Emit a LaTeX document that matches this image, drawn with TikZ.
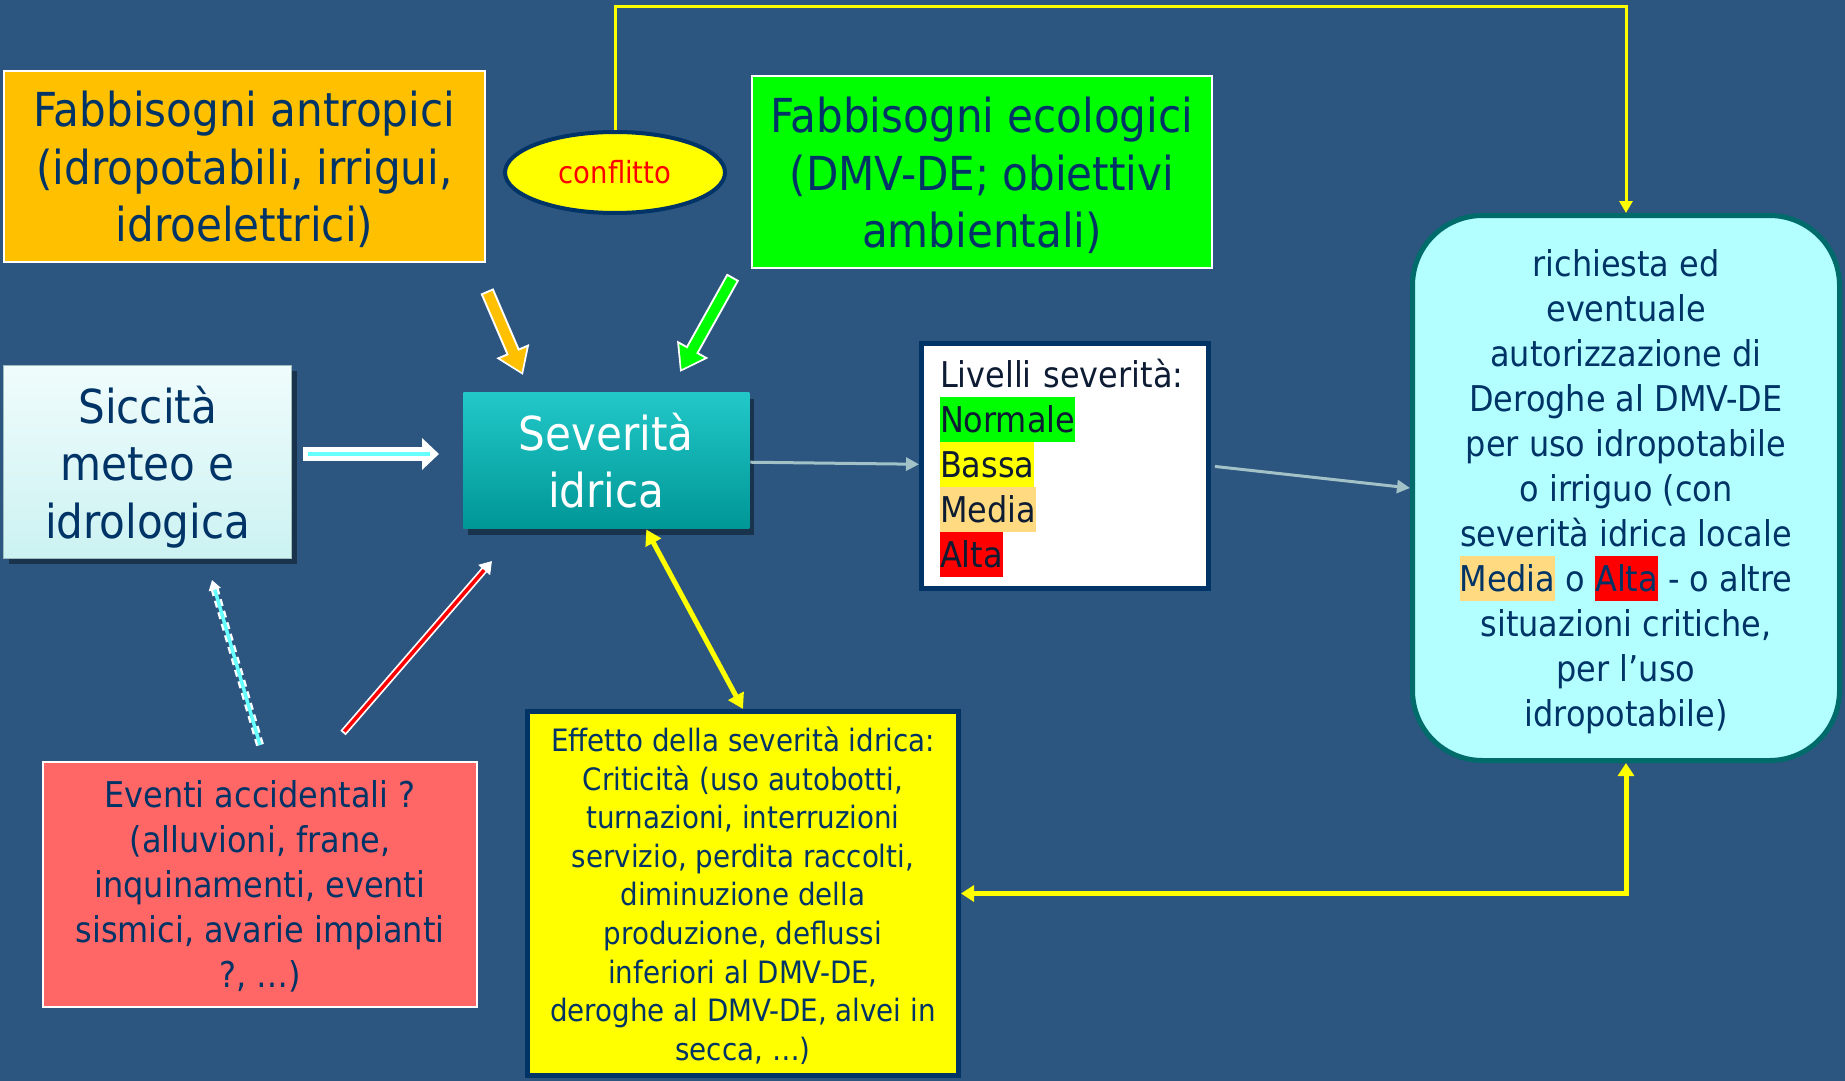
\documentclass[tikz,border=0pt]{standalone}
\usepackage{fontspec}
\setmainfont{DejaVu Sans Condensed}
\usetikzlibrary{arrows.meta}
\usetikzlibrary{shapes.geometric}
\usetikzlibrary{shadows}
\usepackage{xcolor}

\definecolor{sfondo}{HTML}{2C5580}
\definecolor{blu}{HTML}{003366}
\definecolor{blunotte}{HTML}{0D1B33}
\definecolor{arancio}{HTML}{FFC000}
\definecolor{verde}{HTML}{00FF00}
\definecolor{giallo}{HTML}{FFFF00}
\definecolor{rosso}{HTML}{FF6666}
\definecolor{ciano}{HTML}{B3FFFF}
\definecolor{petrolio}{HTML}{006B6B}
\definecolor{pesca}{HTML}{FFDA80}
\definecolor{grigio}{HTML}{A3C2C7}
\definecolor{azzurro}{HTML}{66FFFF}
\definecolor{bordosicc}{HTML}{9DBDBD}
\definecolor{siccalto}{HTML}{F0FCFC}
\definecolor{siccbasso}{HTML}{CCF2F2}
\definecolor{sevalto}{HTML}{22C8C8}
\definecolor{sevbasso}{HTML}{009696}

\newcommand{\evid}[2]{{\setlength{\fboxsep}{0pt}\colorbox{#1}{\rule[-9.5pt]{0pt}{45pt}#2}}}

\tikzset{
  box/.style={draw=white, line width=2pt, text=blu, align=center, inner sep=0pt, text depth=0pt},
  grande/.style={font=\fontsize{46.8}{57.5}\selectfont},
  medio/.style={font=\fontsize{35.5}{45}\selectfont},
  piccolo/.style={font=\fontsize{30.8}{38.6}\selectfont},
  freccia/.style={grigio, line width=3pt, -{Triangle[width=13pt,length=13pt]}},
  collegamento/.style={giallo, line width=5pt},
}

\begin{document}
\begin{tikzpicture}[x=1pt,y=-1pt]
  \useasboundingbox (0,0) rectangle (1845,1081);
  \fill[sfondo] (0,0) rectangle (1845,1081);

  \node[box, grande, fill=arancio, minimum width=481pt, minimum height=191pt] (antr) at (244.5,166.5)
    {Fabbisogni antropici\\(idropotabili, irrigui,\\idroelettrici)};
  \node[box, grande, fill=verde, minimum width=460pt, minimum height=192pt] (ecol) at (982,172.4)
    {Fabbisogni ecologici\\(DMV-DE; obiettivi\\ambientali)};
  \node[box, grande, draw=bordosicc, line width=1pt, top color=siccalto, bottom color=siccbasso,
    drop shadow={shadow xshift=5pt, shadow yshift=-5pt, opacity=0.4, fill=black},
    minimum width=288pt, minimum height=193pt] (sicc) at (147.7,462)
    {Siccità\\meteo e\\idrologica};
  \node[box, grande, draw=none, text=white, top color=sevalto, bottom color=sevbasso,
    drop shadow={shadow xshift=5pt, shadow yshift=-6pt, opacity=0.4, fill=black},
    minimum width=286pt, minimum height=136pt] (sev) at (606.3,460.5)
    {Severità\\idrica};
  \node[draw=blu, line width=5pt, fill=white, text=blunotte, medio, align=left, inner xsep=18.5pt,
    text width=250pt, text height=33pt, minimum width=287pt, minimum height=245pt] (liv) at (1065,466)
    {Livelli severità:\\\evid{verde}{Normale}\\\evid{giallo}{Bassa}\\\evid{pesca}{Media}\\\evid{red}{Alta}};
  \node[draw=petrolio, line width=5pt, fill=ciano, rounded corners=70pt, text=blu, medio, align=center,
    text depth=0pt, minimum width=427pt, minimum height=545pt] (req) at (1626,488)
    {richiesta ed\\eventuale\\autorizzazione di\\Deroghe al DMV-DE\\per uso idropotabile\\o irriguo (con\\severità idrica locale\\
     \evid{pesca}{Media} o \evid{red}{Alta} - o altre\\situazioni critiche,\\per l’uso\\idropotabile)};
  \node[box, medio, fill=rosso, minimum width=434pt, minimum height=245pt] (event) at (260,884.5)
    {Eventi accidentali ?\\(alluvioni, frane,\\inquinamenti, eventi\\sismici, avarie impianti\\?, …)};
  \node[draw=blu, line width=5pt, fill=giallo, text=blu, align=center, piccolo, text depth=0pt,
    minimum width=431pt, minimum height=364pt] (eff) at (743,893.5)
    {Effetto della severità idrica:\\Criticità (uso autobotti,\\turnazioni, interruzioni\\servizio, perdita raccolti,\\
     diminuzione della\\produzione, deflussi\\inferiori al DMV-DE,\\deroghe al DMV-DE, alvei in\\secca, …)};
  \node[ellipse, draw=blu, line width=4pt, fill=giallo, text=red, font=\fontsize{30.5}{36}\selectfont,
    minimum width=220pt, minimum height=81pt] (confl) at (615,172.5) {conflitto};

  % frecce a blocco
  \coordinate (oa1) at (487,291);
  \coordinate (oa2) at (523,375);
  \coordinate (va1) at (733,277);
  \coordinate (va2) at (680,372);
  \coordinate (ba1) at (303,454);
  \coordinate (ba2) at (439,454);
  \coordinate (ra1) at (343,733);
  \coordinate (ra2) at (492,561);
  \coordinate (ca1) at (260,745);
  \coordinate (ca2) at (212,580);
  \draw[white, line width=14pt, -{Triangle[width=34pt,length=26pt]}] (oa1) -- (oa2);
  \draw[arancio, line width=10pt, shorten <=2pt, shorten >=3pt, -{Triangle[width=27pt,length=21pt]}] (oa1) -- (oa2);
  \draw[white, line width=14pt, -{Triangle[width=34pt,length=26pt]}] (va1) -- (va2);
  \draw[verde, line width=10pt, shorten <=2pt, shorten >=3pt, -{Triangle[width=27pt,length=21pt]}] (va1) -- (va2);
  \draw[white, line width=14pt, -{Triangle[width=31pt,length=17pt]}] (ba1) -- (ba2);
  \draw[azzurro, line width=4pt] ([xshift=5pt]ba1) -- ([xshift=-9pt]ba2);
  \draw[white, line width=7pt, -{Triangle[width=15pt,length=12pt]}] (ra1) -- (ra2);
  \draw[red, line width=3.5pt, shorten <=2pt, shorten >=12pt] (ra1) -- (ra2);
  \draw[white, line width=8pt, dash pattern=on 7pt off 5pt, shorten >=8pt] (ca1) -- (ca2);
  \draw[azzurro, line width=3.5pt, -{Triangle[width=12pt,length=10pt,fill=white,color=white]}] (ca1) -- (ca2);

  % collegamenti
  \draw[freccia] (sev) -- (liv);
  \draw[freccia, shorten <=4pt] (liv.east) -- (req.west);
  \draw[collegamento, {Triangle[width=17pt,length=15pt]}-{Triangle[width=17pt,length=15pt]}] ([xshift=40pt]sev.south) -- (eff.north);
  \draw[collegamento, {Triangle[width=16pt,length=13pt]}-{Triangle[width=16pt,length=13pt]}] (req.south) |- (eff.east);
  \draw[giallo, line width=3pt, -{Triangle[width=13pt,length=12pt]}] (confl.north) -- (confl.north |- 0,7) -| (req.north);
\end{tikzpicture}
\end{document}
